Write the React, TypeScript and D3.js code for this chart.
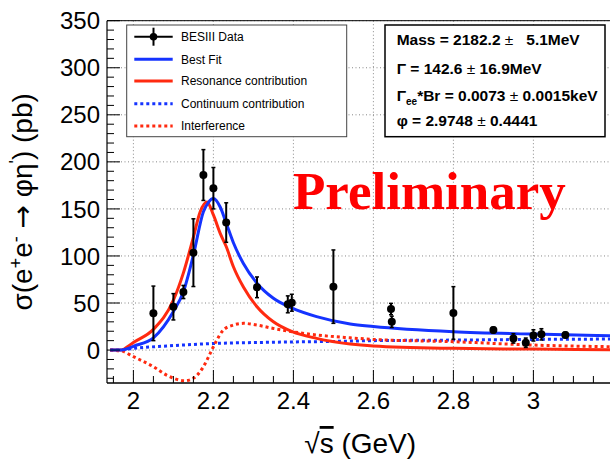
import React from "react";
import * as d3 from "d3";

// ---- data ----
const energy = [2.05, 2.10, 2.125, 2.15, 2.175, 2.20, 2.232, 2.309, 2.386, 2.396, 2.50, 2.644, 2.646, 2.80, 2.90, 2.95, 2.981, 3.00, 3.02, 3.08];
const xsec = [39, 46, 61.7, 103.5, 186, 172, 135.5, 66.7, 48.6, 50.3, 67.4, 43.6, 30, 39.4, 21.3, 12.4, 7.8, 15.6, 16.7, 16];
const xsecErr = [29, 14, 7, 36, 27, 22, 21, 11, 9, 9, 39, 6, 6, 28, 3, 5, 5, 6, 6, 3];

const fitX = [1.942, 1.97, 1.985, 2.0, 2.05, 2.10, 2.125, 2.15, 2.175, 2.1875, 2.20, 2.217, 2.232, 2.25, 2.275, 2.309, 2.35, 2.397, 2.458, 2.542, 2.6, 2.8, 3.0, 3.2];
const fitY = [0, 0, 1.5, 4, 13, 41, 62, 101, 147, 157, 161, 152, 135, 114, 92, 71, 55, 44.5, 35.5, 27.7, 25, 19.5, 17, 15.2];

const resX = [1.942, 1.97, 1.985, 2.0, 2.05, 2.10, 2.125, 2.15, 2.167, 2.184, 2.20, 2.217, 2.232, 2.25, 2.275, 2.309, 2.35, 2.397, 2.458, 2.542, 2.6, 2.8, 3.0, 3.2];
const resY = [0, 0, 3.5, 8, 22, 53, 82, 120, 147, 157.4, 143.6, 124, 110, 88.6, 67, 46, 30, 19.5, 12.4, 6.4, 4.3, 1.8, 1, 0.3];

const contX = [1.942, 1.97, 2.0, 2.083, 2.2, 2.333, 2.542, 2.6, 2.8, 3.0, 3.2];
const contY = [0, 0.2, 1.8, 4.3, 7, 8.2, 9.5, 10, 10.6, 11.3, 11.7];

const intX = [1.942, 1.97, 2.0, 2.05, 2.083, 2.129, 2.15, 2.175, 2.192, 2.205, 2.225, 2.25, 2.275, 2.308, 2.35, 2.397, 2.458, 2.542, 2.6, 2.8, 3.0, 3.2];
const intY = [0, -1, -7, -17.7, -26.6, -32.6, -30, -17.7, -3.5, 7.8, 21.3, 26.6, 28.4, 26.6, 23, 19.5, 16, 13, 11.3, 8.9, 5.3, 3.5];

const xMajorTicks = [2.0, 2.2, 2.4, 2.6, 2.8, 3.0, 3.2];
const xTickLabels = ["2", "2.2", "2.4", "2.6", "2.8", "3", ""];
const yMajorTicks = [0, 50, 100, 150, 200, 250, 300, 350];
const yTickLabels = ["0", "50", "100", "150", "200", "250", "300", "350"];

const legendLabels = ["BESIII Data", "Best Fit", "Resonance contribution", "Continuum contribution", "Interference"];

const BLUE = "#1533ff";
const RED = "#ff2a10";
const SANS = "'Liberation Sans', Arial, Helvetica, sans-serif";

export default function App() {
  const W = 610, H = 460;
  const left = 107, right = 613.4, top = 20.7, bottom = 383;
  const x = d3.scaleLinear().domain([1.934, 3.2]).range([left, right]);
  const y = d3.scaleLinear().domain([-35, 350]).range([bottom, top]);

  const mkLine = (xs: number[], ys: number[]) =>
    d3.line<number>().x((_, i) => x(xs[i])).y((d) => y(d)).curve(d3.curveMonotoneX)(ys) || "";

  const xMinor = d3.range(0, 26).map((i) => 1.95 + i * 0.05);
  const yMinor = d3.range(0, 39).map((i) => -30 + i * 10);
  const isMajX = (v: number) => Math.abs((v - 2) / 0.2 - Math.round((v - 2) / 0.2)) < 1e-6;
  const isMajY = (v: number) => Math.abs(v / 50 - Math.round(v / 50)) < 1e-6 && v >= 0;

  const gridStyle = { stroke: "#888", strokeWidth: 1, strokeDasharray: "1,2.5" };

  const legRows = [36.7, 59.3, 81, 103.7, 126];
  const statsBase = [45, 74, 100.5, 126];

  return (
    <div style={{ position: "absolute", left: 0, top: 0 }}>
      <svg width={W} height={H} style={{ display: "block", background: "#fff" }}>
        <defs>
          <clipPath id="plotclip">
            <rect x={left} y={top} width={right - left} height={bottom - top} />
          </clipPath>
        </defs>
        {/* grid */}
        {xMajorTicks.map((v) => (
          <line key={"gx" + v} x1={x(v)} x2={x(v)} y1={top} y2={bottom} style={gridStyle} />
        ))}
        {yMajorTicks.map((v) => (
          <line key={"gy" + v} x1={left} x2={right} y1={y(v)} y2={y(v)} style={gridStyle} />
        ))}

        {/* Preliminary */}
        <text x={293} y={209} fill="#ff0000" fontFamily="'Liberation Serif', 'Times New Roman', serif" fontWeight="bold" fontSize={53}>
          Preliminary
        </text>

        {/* curves */}
        <g clipPath="url(#plotclip)" fill="none">
          <path d={mkLine(contX, contY)} stroke={BLUE} strokeWidth={3} strokeDasharray="3,3" />
          <path d={mkLine(intX, intY)} stroke={RED} strokeWidth={3} strokeDasharray="3,3" />
          <path d={mkLine(resX, resY)} stroke={RED} strokeWidth={3} />
          <path d={mkLine(fitX, fitY)} stroke={BLUE} strokeWidth={3} />
        </g>

        {/* data points */}
        <g>
          {energy.map((e, i) => {
            const cx = x(e);
            const y1 = y(xsec[i] + xsecErr[i]);
            const y2 = y(xsec[i] - xsecErr[i]);
            return (
              <g key={"p" + i}>
                <line x1={cx} x2={cx} y1={y1} y2={y2} stroke="#000" strokeWidth={2} />
                <line x1={cx - 2} x2={cx + 2} y1={y1} y2={y1} stroke="#000" strokeWidth={1.5} />
                <line x1={cx - 2} x2={cx + 2} y1={y2} y2={y2} stroke="#000" strokeWidth={1.5} />
                <circle cx={cx} cy={y(xsec[i])} r={4} fill="#000" />
              </g>
            );
          })}
        </g>

        {/* frame */}
        <line x1={left} x2={W} y1={top} y2={top} stroke="#000" strokeWidth={1} />
        <line x1={left} x2={left} y1={top} y2={bottom} stroke="#000" strokeWidth={1.2} />
        <line x1={left} x2={W} y1={bottom} y2={bottom} stroke="#000" strokeWidth={1.5} />

        {/* ticks */}
        {xMinor.map((v, i) => (
          <line key={"tx" + i} x1={x(v)} x2={x(v)} y1={bottom} y2={bottom - (isMajX(v) ? 13 : 7)} stroke="#000" strokeWidth={1} />
        ))}
        {yMinor.map((v, i) => (
          <line key={"ty" + i} x1={left} x2={left + (isMajY(v) ? 13 : 7)} y1={y(v)} y2={y(v)} stroke="#000" strokeWidth={1} />
        ))}

        {/* tick labels */}
        {xMajorTicks.map((v, i) =>
          xTickLabels[i] ? (
            <text key={"lx" + i} x={x(v)} y={409} textAnchor="middle" fontFamily={SANS} fontSize={24} fill="#000">
              {xTickLabels[i]}
            </text>
          ) : null
        )}
        {yMajorTicks.map((v, i) => (
          <text key={"ly" + i} x={100} y={y(v) + 8.6} textAnchor="end" fontFamily={SANS} fontSize={24} fill="#000">
            {yTickLabels[i]}
          </text>
        ))}

        {/* axis titles */}
        <text x={(left + right) / 2} y={453} textAnchor="middle" fontFamily={SANS} fontSize={28} fill="#000">
          √<tspan style={{ textDecoration: "overline" }}>s</tspan> (GeV)
        </text>
        <text transform={`translate(32,${(top + bottom) / 2}) rotate(-90)`} textAnchor="middle" fontFamily={SANS} fontSize={28} fill="#000">
          σ(e<tspan baselineShift="super" fontSize={18}>+</tspan>e<tspan baselineShift="super" fontSize={18}>-</tspan>{" "}
          <tspan fontFamily="'DejaVu Sans', sans-serif">→</tspan> φη<tspan baselineShift="super" fontSize={18}>'</tspan>) (pb)
        </text>

        {/* legend */}
        <rect x={126.7} y={25} width={220} height={111.7} fill="#fff" stroke="#444" strokeWidth={1} />
        {legendLabels.map((lab, i) => {
          const ry = legRows[i];
          let sample: React.ReactNode = null;
          if (i === 0) {
            sample = (
              <g>
                <line x1={134.3} x2={172.7} y1={ry} y2={ry} stroke="#000" strokeWidth={2} />
                <line x1={153.5} x2={153.5} y1={ry - 9} y2={ry + 9} stroke="#000" strokeWidth={2} />
                <circle cx={153.5} cy={ry} r={3.8} fill="#000" />
              </g>
            );
          } else {
            const col = i === 1 || i === 3 ? BLUE : RED;
            const dash = i >= 3 ? "3,3" : undefined;
            sample = <line x1={134.3} x2={172.7} y1={ry} y2={ry} stroke={col} strokeWidth={3} strokeDasharray={dash} />;
          }
          return (
            <g key={"leg" + i}>
              {sample}
              <text x={181} y={ry + 4.3} fontFamily={SANS} fontSize={12} fill="#000">
                {lab}
              </text>
            </g>
          );
        })}

        {/* stats box */}
        <rect x={385} y={25} width={220} height={111.7} fill="#fff" stroke="#000" strokeWidth={1.5} />
        <g fontFamily={SANS} fontWeight="bold" fontSize={15.5} fill="#000">
          <text x={396.7} y={statsBase[0]} xmlSpace="preserve" style={{ whiteSpace: "pre" }}>
            {"Mass = 2182.2 "}<tspan fontWeight="normal">±</tspan>{"   5.1MeV"}
          </text>
          <text x={396.7} y={statsBase[1]} xmlSpace="preserve" style={{ whiteSpace: "pre" }}>
            {"Γ = 142.6 "}<tspan fontWeight="normal">±</tspan>{" 16.9MeV"}
          </text>
          <text x={396.7} y={statsBase[2]} xmlSpace="preserve" style={{ whiteSpace: "pre" }}>
            {"Γ"}<tspan fontSize={10} dy={4}>ee</tspan><tspan dy={-4}>{"*Br = 0.0073 "}</tspan><tspan fontWeight="normal">±</tspan>{" 0.0015keV"}
          </text>
          <text x={396.7} y={statsBase[3]} xmlSpace="preserve" style={{ whiteSpace: "pre" }}>
            {"φ = 2.9748 "}<tspan fontWeight="normal">±</tspan>{" 0.4441"}
          </text>
        </g>
      </svg>
    </div>
  );
}
